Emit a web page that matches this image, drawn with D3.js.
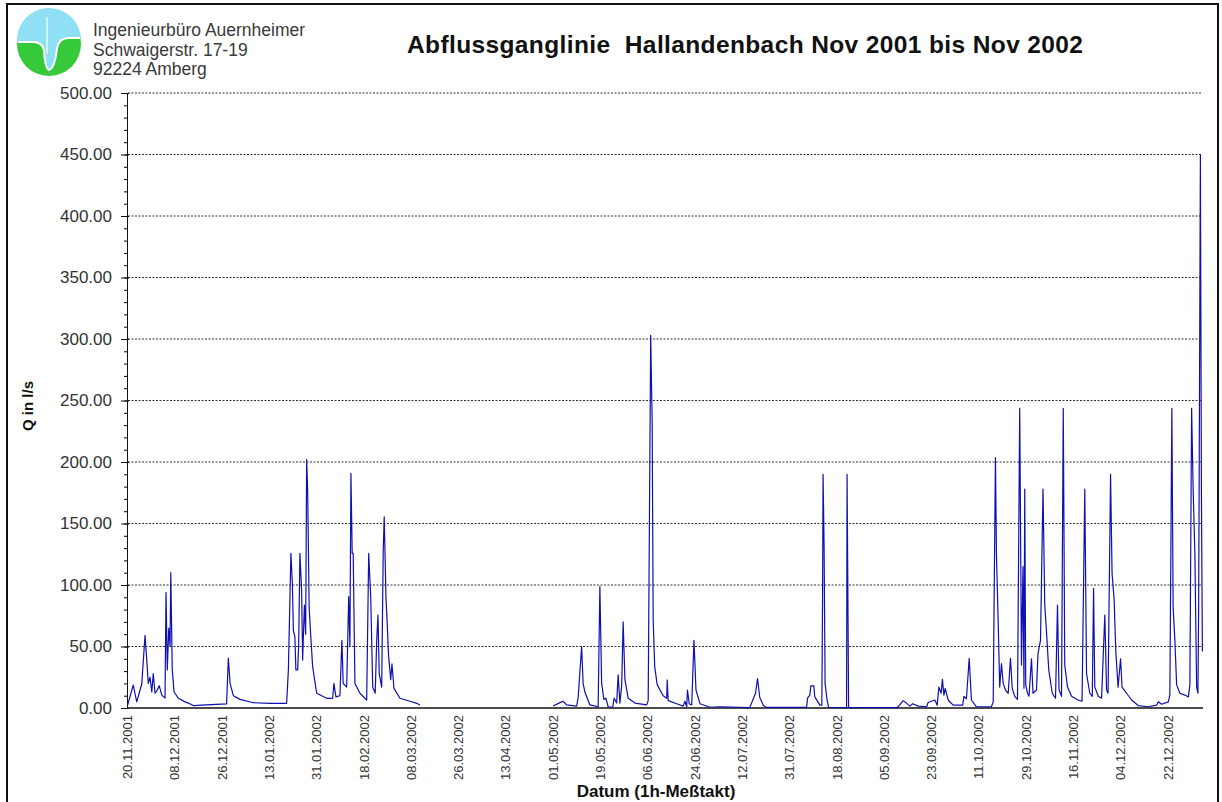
<!DOCTYPE html>
<html>
<head>
<meta charset="utf-8">
<script src="https://cdn.jsdelivr.net/npm/d3@7"></script>
<style>
  body { margin: 0; background: #fff; }
  svg { display: block; font-family: "Liberation Sans", Arial, sans-serif; }
</style>
</head>
<body>
<svg id="chart" width="1222" height="802"></svg>
<script>
// x labels: one tick every 18 days (as on the original axis)
var tickLabels = ["20.11.2001","08.12.2001","26.12.2001","13.01.2002","31.01.2002","18.02.2002",
  "08.03.2002","26.03.2002","13.04.2002","01.05.2002","19.05.2002","06.06.2002","24.06.2002",
  "12.07.2002","31.07.2002","18.08.2002","05.09.2002","23.09.2002","11.10.2002","29.10.2002",
  "16.11.2002","04.12.2002","22.12.2002"];
var tickStepDays = 18;
var yTickValues = [0,50,100,150,200,250,300,350,400,450,500];

// discharge: days since 20.11.2001 and Q in l/s (null = gap in record)
var dayOffsets = [0,2.19,3.52,5.43,6.67,7.33,7.90,8.57,9.24,9.81,10.47,11.14,12.09,13.05,14.28,14.66,15.14,15.71,16.19,16.47,
  17.04,17.71,19.33,21.90,23.14,25.04,29.90,37.71,38.38,39.04,40.28,42.85,47.90,54.18,60.56,61.23,62.18,62.75,63.13,63.70,
  64.08,64.75,65.13,65.61,66.27,66.65,67.32,67.80,68.18,68.56,69.13,69.70,70.46,71.99,75.80,78.08,78.56,79.32,80.84,81.60,
  82.08,83.41,84.18,84.65,85.03,85.51,85.89,86.56,88.46,91.03,91.79,92.56,93.32,94.27,94.84,95.32,95.79,96.74,97.32,97.70,
  98.36,98.84,99.31,100.17,100.65,101.41,103.70,107.50,110.07,111.31,
  132.7,
  161.97,165.21,165.78,167.11,170.92,171.49,172.83,173.40,174.06,175.97,179.11,179.77,180.44,181.30,182.06,182.92,184.63,185.20,186.16,186.73,
  187.39,188.06,188.63,189.30,190.54,193.11,197.59,198.16,199.11,199.68,200.06,200.63,201.58,203.87,205.20,205.39,205.77,209.01,211.48,212.15,
  212.82,213.10,213.77,214.72,215.58,216.34,217.86,221.67,225.48,236.81,239.00,239.77,240.62,241.96,243.19,258.43,258.81,259.67,260.05,261.19,
  261.57,263.48,264.24,264.52,264.71,265.10,265.48,266.24,266.81,273.66,273.85,274.43,292.71,293.28,295.18,296.42,297.76,298.80,300.90,304.13,
  304.70,305.94,307.27,308.13,308.79,309.65,310.13,310.70,311.18,312.32,314.22,317.84,318.32,319.27,320.32,321.17,323.08,328.79,329.46,330.31,
  330.70,331.36,331.93,332.60,333.27,334.12,335.17,336.03,336.70,337.65,338.70,339.55,340.22,340.79,341.17,341.46,341.84,342.50,343.08,344.03,
  344.60,345.93,346.51,347.46,348.41,349.08,349.74,350.60,351.93,353.17,353.93,354.50,355.46,356.12,356.69,357.74,359.27,361.74,363.27,364.31,
  364.98,366.22,367.17,367.65,368.12,369.46,370.70,371.93,372.60,373.17,374.12,374.70,375.46,376.12,376.98,377.93,378.50,380.22,382.12,384.60,
  388.41,391.64,392.31,393.55,396.12,396.69,397.45,397.93,398.60,399.26,400.50,402.40,403.74,404.31,404.97,405.55,406.21,406.88,407.36,407.64,
  407.83,408.31,408.69,409.07];
var flowValues = [2,18.7,5,19.5,59,39,20,25,13,28,12,14,18,10.5,8,94,31,65,50,110,
  31,13,8,5,4,2,2.5,3.3,40.6,20,10,7,4.3,3.8,3.8,31,125.7,101,63,58,
  31,31,50,125.7,95,39,83.7,60,202,177,82,60,33.6,12,7.9,7.9,20,9,10,55,
  20,17,90.5,50,190.8,125.7,125.7,20,12,6.5,125.7,90.5,17,12,55,75.6,28,17,128,155.5,
  90,68.8,44,23,35.8,16,7.9,5.5,3.8,2.4,
  null,
  1.6,5,5.5,2.5,1.6,8,50,20,13,2.5,1,98.7,20,7,8,1,0.6,8,4,27,
  4,18,70,23,8,4,2.5,6,303,230,71.5,33.6,19,10,8,22.8,6,3.5,1.5,5.5,
  1,14.6,3.5,2.5,55,14.6,3.5,0.6,1,0.3,12,24,8.5,2.3,0.5,0.5,8,10.5,18,18,
  9,2.3,2.3,87.8,190,131,20,6.5,0.5,0.3,190,0.3,0.3,1,6,4,1.5,3.5,1.5,1,
  4.5,5.5,6.5,2.3,17,12,23.3,10.5,16,6.5,2.3,2.3,9.5,7.5,40.4,6.5,1,1,5,203.5,
  125,69,17,36,20,14.6,12,40.4,16,9.5,7,243.6,35,115,16,178,19,12,9.5,40,
  12,14.6,44.4,55,178,83.7,62,31,12,8,83.7,15,9.5,243.6,35,17,9.5,6.5,5.5,178,
  28,12,9.5,97.3,17,9.5,8,75.6,14.6,12,190,109,89,46,17,40,17,12,6.5,2,
  1,2.3,5,3,5,10.6,243.6,82,55,19,12,10.5,9,19,243.6,178,125,17,12,81,
  178,450,178,46];

var svg = d3.select("#chart");
var margin = {top: 93, left: 127, right: 1203, bottom: 708};

var x = d3.scaleLinear().domain([0, 409.3]).range([127.5, 1203]);
var y = d3.scaleLinear().domain([0, 500]).range([margin.bottom, margin.top]);

// outer frame
svg.append("rect")
  .attr("x", 7).attr("y", 4)
  .attr("width", 1211).attr("height", 806)
  .attr("fill", "none").attr("stroke", "#111").attr("stroke-width", 2);

// logo
var logo = svg.append("g").attr("transform", "translate(49,44)");
logo.append("circle").attr("r", 32).attr("fill", "#36c93a");
logo.append("path")
  .attr("d", "M-32,-2 A32,32 0 0 1 32,-6 L20,-6 Q10,-6 8,4 Q6,24 0,26 Q-4,24 -5,6 Q-7,-2 -16,-2 Z")
  .attr("fill", "#8fe0f4");
logo.append("path")
  .attr("d", "M-31,-2 L-16,-2 Q-7,-2 -5,6 Q-4,24 0,26 Q6,24 8,4 Q10,-6 20,-6 L31,-6")
  .attr("fill", "none").attr("stroke", "#fff").attr("stroke-width", 2);
logo.append("line")
  .attr("x1", -2).attr("x2", -2).attr("y1", -27).attr("y2", 10)
  .attr("stroke", "#fff").attr("stroke-width", 1.2);

var addr = ["Ingenieurbüro Auernheimer", "Schwaigerstr. 17-19", "92224 Amberg"];
svg.selectAll(".addr").data(addr).enter().append("text")
  .attr("class", "addr")
  .attr("x", 93)
  .attr("y", function(d, i) { return 36 + i * 19.7; })
  .attr("font-size", "17.5px")
  .attr("fill", "#3a3a3a")
  .text(function(d) { return d; });

// title
svg.append("text")
  .attr("x", 745).attr("y", 53)
  .attr("text-anchor", "middle")
  .attr("font-size", "24.5px").attr("font-weight", "bold")
  .attr("fill", "#111")
  .attr("textLength", 676).attr("lengthAdjust", "spacing")
  .attr("xml:space", "preserve")
  .text("Abflussganglinie  Hallandenbach Nov 2001 bis Nov 2002");

// dashed gridlines
svg.append("g").selectAll("line").data(yTickValues.filter(function(v) { return v > 0; }))
  .enter().append("line")
  .attr("x1", margin.left + 1).attr("x2", 1201)
  .attr("y1", function(d) { return y(d); })
  .attr("y2", function(d) { return y(d); })
  .attr("stroke", "#333").attr("stroke-width", 1)
  .attr("stroke-dasharray", "2,1.5");

// y axis: minor ticks every 10, labelled major ticks every 50
svg.append("g")
  .attr("transform", "translate(" + margin.left + ",0)")
  .call(d3.axisLeft(y).tickValues(d3.range(0, 501, 10)).tickSize(3).tickFormat(""))
  .call(function(g) { g.select(".domain").remove(); });
var yAxisG = svg.append("g")
  .attr("transform", "translate(" + margin.left + ",0)")
  .call(d3.axisLeft(y).tickValues(yTickValues).tickSize(6).tickPadding(9).tickFormat(d3.format(".2f")));
yAxisG.select(".domain").attr("stroke", "#111");
yAxisG.selectAll(".tick line").attr("stroke", "#111").attr("x1", 2).attr("x2", -6);
yAxisG.selectAll("text")
  .attr("font-family", "Liberation Sans, Arial, sans-serif")
  .attr("font-size", "17px").attr("fill", "#333");

// x axis line
svg.append("line")
  .attr("x1", margin.left).attr("x2", margin.right)
  .attr("y1", margin.bottom).attr("y2", margin.bottom)
  .attr("stroke", "#111").attr("stroke-width", 1.3);

// rotated date labels
svg.append("g").selectAll("text").data(tickLabels).enter().append("text")
  .attr("transform", function(d, i) {
    return "translate(" + x(i * tickStepDays) + "," + (margin.bottom + 7) + ") rotate(-90)";
  })
  .attr("text-anchor", "end")
  .attr("dy", "0.35em")
  .attr("font-size", "13px")
  .attr("fill", "#333")
  .text(function(d) { return d; });

// axis titles
svg.append("text")
  .attr("x", 656).attr("y", 797)
  .attr("text-anchor", "middle")
  .attr("font-size", "17px").attr("font-weight", "bold").attr("fill", "#111")
  .text("Datum (1h-Meßtakt)");
svg.append("text")
  .attr("transform", "translate(33,406) rotate(-90)")
  .attr("text-anchor", "middle")
  .attr("font-size", "15px").attr("font-weight", "bold").attr("fill", "#111")
  .text("Q in l/s");

// hydrograph
var flowData = dayOffsets.map(function(d, i) { return [d, flowValues[i]]; });
var line = d3.line()
  .defined(function(d) { return d[1] != null; })
  .x(function(d) { return x(d[0]); })
  .y(function(d) { return y(d[1]); });
svg.append("path")
  .datum(flowData)
  .attr("d", line)
  .attr("fill", "none")
  .attr("stroke", "#1010b0")
  .attr("stroke-width", 1.2)
  .attr("stroke-linejoin", "round");
</script>
</body>
</html>
